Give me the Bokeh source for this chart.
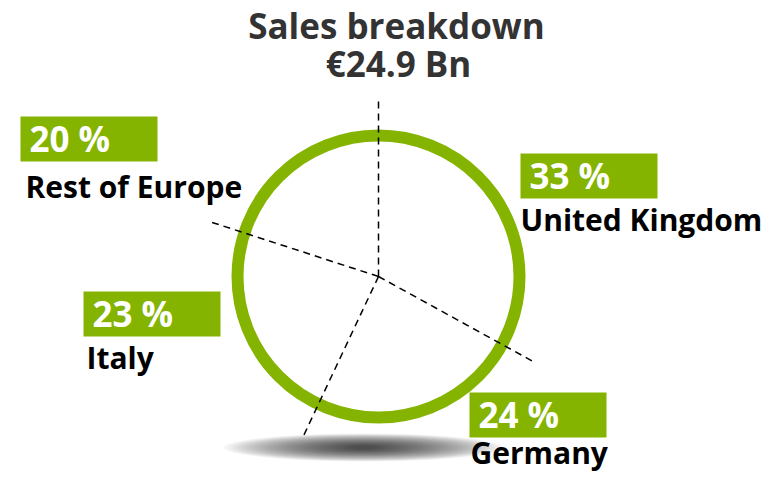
import math
from bokeh.plotting import figure
from bokeh.models import Range1d
from bokeh.core.properties import value
from bokeh.embed import file_html
from bokeh.resources import INLINE

# ---- data ----
title_lines = ["Sales breakdown", "€24.9 Bn"]
categories = ["United Kingdom", "Germany", "Italy", "Rest of Europe"]
shares = [33, 24, 23, 20]
pct_labels = [f"{s} %" for s in shares]

# ---- layout (pixels, y downward) ----
W, H = 766, 472
cx, cy = 378, 276
ring_r = 141
spoke_len = 176
box_left = [520, 469, 83, 20]
box_top = [153, 392, 291, 116]
box_w, box_h = 137, 45
name_left = [520, 470, 86, 25]
name_base = [230, 463, 368, 197]
title_x = [396, 398]
title_base = [38, 76]

GREEN = "#84B400"
FONT = value("Open Sans")
SHIFT = 0.38  # baseline correction, in em


def fix(ys, size):
    return [y - SHIFT * size for y in ys]


p = figure(width=W, height=H, output_backend="svg", toolbar_location=None,
           x_range=Range1d(0, W), y_range=Range1d(H, 0),
           x_axis_type=None, y_axis_type=None, min_border=0)
p.outline_line_color = None
p.grid.visible = False
p.background_fill_color = "white"
p.border_fill_color = "white"

# soft shadow under the ring
n = 30
for i in range(n):
    t = i / (n - 1)
    p.ellipse(x=[cx - 15], y=[cy + 171], width=[280 - 260 * t], height=[28 - 24 * t],
              fill_color="black", fill_alpha=0.034, line_color=None)

# ring
p.circle(x=[cx], y=[cy], radius=ring_r, fill_color=None, line_color=GREEN, line_width=12)

# spokes at slice boundaries (clockwise from top)
total = sum(shares)
cum = 0
xs, ys = [], []
for s in shares:
    th = 2 * math.pi * cum / total
    xs.append([cx, cx + spoke_len * math.sin(th)])
    ys.append([cy, cy - spoke_len * math.cos(th)])
    cum += s
p.multi_line(xs=xs, ys=ys, line_color="black", line_width=1.5, line_dash="7 5")

# label boxes
p.quad(left=box_left, right=[b + box_w for b in box_left],
       top=box_top, bottom=[b + box_h for b in box_top],
       fill_color=GREEN, line_color=None)
p.text(x=[b + 9 for b in box_left], y=fix([b + 35 for b in box_top], 35), text=pct_labels,
       text_color="white", text_font=FONT, text_font_style="bold",
       text_font_size="35px", text_baseline="alphabetic", text_align="left")
p.text(x=name_left, y=fix(name_base, 30), text=categories,
       text_color="black", text_font=FONT, text_font_style="bold",
       text_font_size="30px", text_baseline="alphabetic", text_align="left")

# title
p.text(x=title_x, y=fix(title_base, 35), text=title_lines,
       text_color="#333333", text_font=FONT, text_font_style="bold",
       text_font_size="35px", text_baseline="alphabetic", text_align="center")

open("out.html", "w").write(file_html(p, INLINE))
